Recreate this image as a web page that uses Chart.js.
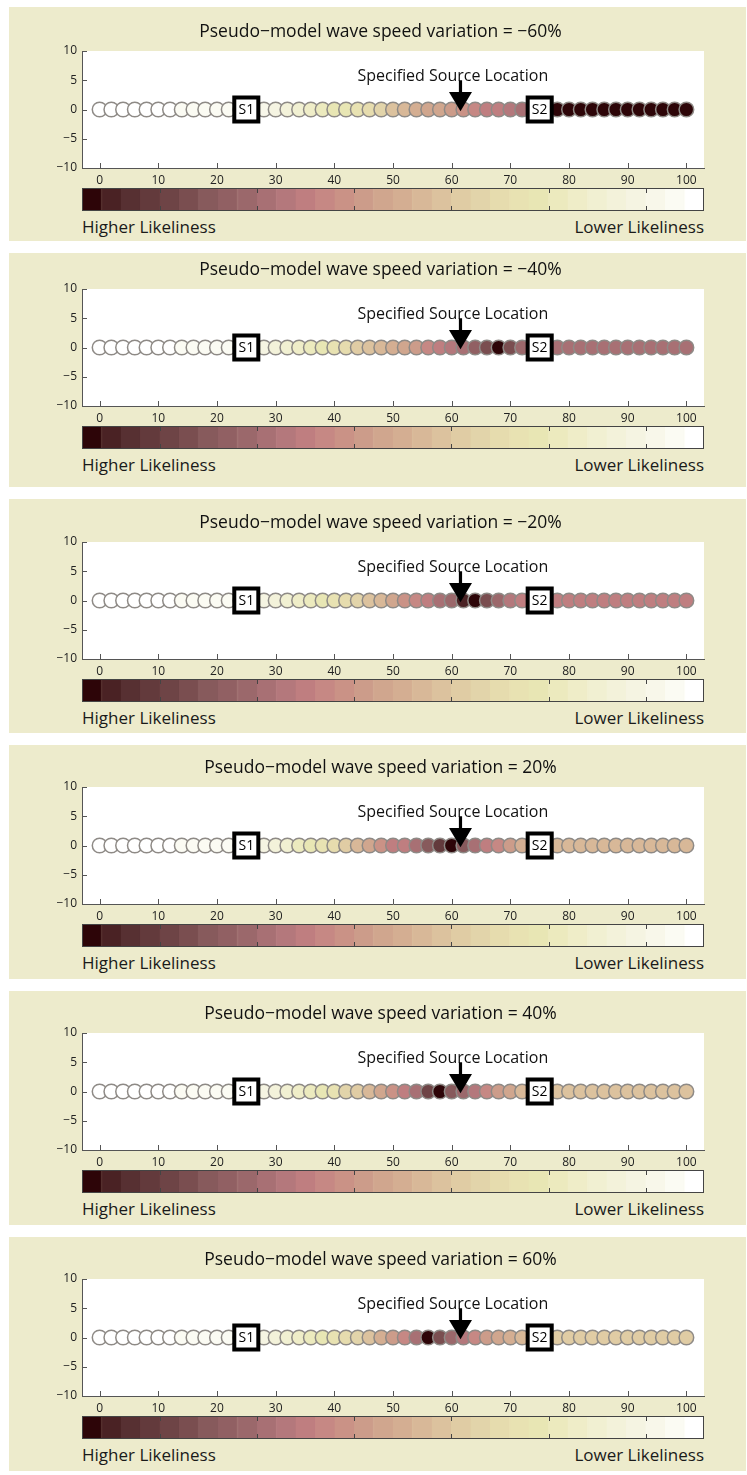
<!DOCTYPE html>
<html>
<head>
<meta charset="utf-8">
<script src="https://cdn.jsdelivr.net/npm/chart.js@4.4.1/dist/chart.umd.min.js"></script>
<style>
  body{margin:0;background:#fff;width:747px;height:1475px;position:relative;overflow:hidden;font-family:"Open Sans",sans-serif;}
  .panel{position:absolute;left:9px;width:737px;height:234px;background:#edebcc;}
  .panel canvas{position:absolute;}
  .lab{position:absolute;font-size:17px;line-height:20px;color:#1a1a1a;white-space:nowrap;}
</style>
</head>
<body>
<script>
// ---- data ----
const titles = [
  'Pseudo\u2212model wave speed variation = \u221260%',
  'Pseudo\u2212model wave speed variation = \u221240%',
  'Pseudo\u2212model wave speed variation = \u221220%',
  'Pseudo\u2212model wave speed variation = 20%',
  'Pseudo\u2212model wave speed variation = 40%',
  'Pseudo\u2212model wave speed variation = 60%'
];
const xPositions = [0,2,4,6,8,10,12,14,16,18,20,22,24,26,28,30,32,34,36,38,40,42,44,46,48,50,
                    52,54,56,58,60,62,64,66,68,70,72,74,76,78,80,82,84,86,88,90,92,94,96,98,100];
// colormap level per position (0 = highest likeliness, 31 = lowest)
const likelinessM60 = [31,31,31,31,31,31,31,30,30,30,30,30,29,29,29,28,27,26,25,24,23,23,22,21,20,18,
                       17,16,15,15,14,13,12,11,11,10,9,8,1,0,0,0,0,0,0,0,0,0,0,0,0];
const likelinessM40 = [31,31,31,31,31,31,31,30,30,30,30,30,29,29,28,27,26,25,24,23,22,21,19,18,17,16,
                       15,14,12,11,10,9,7,5,0,5,8,9,9,9,9,9,9,9,9,9,9,9,9,9,9];
const likelinessM20 = [31,31,31,31,31,31,31,30,30,30,30,30,29,29,28,27,26,25,24,23,22,21,20,18,17,15,
                       13,12,11,9,8,1,0,5,8,10,11,11,11,11,11,11,11,11,11,11,11,11,11,11,11];
const likelinessP20 = [31,31,31,31,31,31,31,30,30,30,30,30,29,29,28,27,26,24,23,22,21,19,17,15,13,11,
                       11,9,6,3,0,6,9,11,12,14,16,17,17,17,17,17,17,17,17,17,17,17,17,17,17];
const likelinessP40 = [31,31,31,31,31,31,31,30,30,30,30,30,29,29,28,27,26,25,24,23,22,20,19,17,15,13,
                       11,9,4,0,6,8,10,12,14,15,17,18,18,18,18,18,18,18,18,18,18,18,18,18,18];
const likelinessP60 = [31,31,31,31,31,31,31,30,30,30,30,30,29,29,28,27,26,25,24,23,22,21,20,18,16,14,
                       12,9,0,5,8,10,12,14,15,16,17,18,19,19,19,19,19,19,19,19,19,19,19,19,19];
const panelLikeliness = [likelinessM60, likelinessM40, likelinessM20, likelinessP20, likelinessP40, likelinessP60];

const colormap = ['#2d0508','#4a2224','#573032','#633a3c','#6e4446','#7a4e50','#875a5c','#916063',
                  '#9b686b','#a87074','#b4787c','#bf7e80','#c68884','#ca9286','#cc9c8a','#d0a68e',
                  '#d4ae92','#d8b898','#dcc29e','#e0cca4','#e2d4aa','#e6dcae','#e8e2b2','#e8e6b4',
                  '#eceabe','#efedc8','#f1f0d2','#f3f2da','#f5f4e2','#f8f7ea','#fbfbf3','#ffffff'];
const cbarLevels = [0,1,2,3,4,5,6,7,8,9,10,11,12,13,14,15,16,17,18,19,20,21,22,23,24,25,26,27,28,29,30,31];
const cbarTicks = [4,9,14,19,24,29];
const xTicks = [0,10,20,30,40,50,60,70,80,90,100];
const yTicks = [-10,-5,0,5,10];
const sensorX = [25,75];
const sensorNames = ['S1','S2'];
const sourceX = 61.5;
const sourceLabel = 'Specified Source Location';
const panelTops = [7,253,499,745,991,1237];
const contentShift = [0,-8,-1,-2,-2,-2];

const FONT = '"Open Sans", sans-serif';

const plotDecor = {
  id: 'plotDecor',
  beforeDraw(chart){
    const a = chart.chartArea, ctx = chart.ctx;
    ctx.save();
    ctx.fillStyle = '#ffffff';
    ctx.fillRect(a.left, a.top, a.width, a.height);
    ctx.restore();
  },
  afterDatasetsDraw(chart){
    const ctx = chart.ctx, xs = chart.scales.x, ys = chart.scales.y;
    ctx.save();
    // sensor labels
    ctx.fillStyle = '#000';
    ctx.font = '14px ' + FONT;
    ctx.textAlign = 'center';
    ctx.textBaseline = 'middle';
    sensorX.forEach((v, i) => {
      ctx.fillText(sensorNames[i], xs.getPixelForValue(v), ys.getPixelForValue(0) + 1);
    });
    // source label + arrow
    ctx.font = '16px ' + FONT;
    ctx.textBaseline = 'alphabetic';
    ctx.fillStyle = '#111';
    ctx.fillText(sourceLabel, xs.getPixelForValue(60.2), ys.getPixelForValue(4.9));
    const x = xs.getPixelForValue(sourceX);
    const yTop = ys.getPixelForValue(5.0), yHead = ys.getPixelForValue(3.0), yTip = ys.getPixelForValue(-0.3);
    ctx.fillStyle = '#000';
    ctx.fillRect(x - 1.6, yTop, 3.2, yHead - yTop + 1);
    ctx.beginPath();
    ctx.moveTo(x - 11.5, yHead);
    ctx.lineTo(x + 11.5, yHead);
    ctx.lineTo(x, yTip);
    ctx.closePath();
    ctx.fill();
    ctx.restore();
  },
  afterDraw(chart){
    // MATLAB-style inward ticks
    const ctx = chart.ctx, xs = chart.scales.x, ys = chart.scales.y, a = chart.chartArea;
    ctx.save();
    ctx.strokeStyle = '#555';
    ctx.lineWidth = 1;
    ctx.beginPath();
    xTicks.forEach(v => {
      const px = Math.round(xs.getPixelForValue(v)) + 0.5;
      ctx.moveTo(px, a.bottom); ctx.lineTo(px, a.bottom - 5);
    });
    yTicks.forEach(v => {
      const py = Math.round(ys.getPixelForValue(v)) + 0.5;
      ctx.moveTo(a.left, py); ctx.lineTo(a.left + 5, py);
    });
    ctx.stroke();
    ctx.restore();
  }
};

const cbarDecor = {
  id: 'cbarDecor',
  afterDraw(chart){
    const ctx = chart.ctx, xs = chart.scales.x, a = chart.chartArea;
    ctx.save();
    ctx.strokeStyle = '#444';
    ctx.lineWidth = 1;
    ctx.strokeRect(a.left + 0.5, a.top + 0.5, a.width - 1, a.height - 1);
    ctx.beginPath();
    cbarTicks.forEach(v => {
      const px = Math.round(xs.getPixelForValue(v)) + 0.5;
      ctx.moveTo(px, a.top); ctx.lineTo(px, a.top + 5);
      ctx.moveTo(px, a.bottom); ctx.lineTo(px, a.bottom - 5);
    });
    ctx.stroke();
    ctx.restore();
  }
};

function make_panel(i){
  const dy = contentShift[i];
  const panel = document.createElement('div');
  panel.className = 'panel';
  panel.style.top = panelTops[i] + 'px';
  document.body.appendChild(panel);

  const cv = document.createElement('canvas');
  cv.width = 734; cv.height = 186;
  cv.style.left = '0px'; cv.style.top = dy + 'px';
  panel.appendChild(cv);

  const cb = document.createElement('canvas');
  cb.width = 622; cb.height = 23;
  cb.style.left = '73px'; cb.style.top = (181 + dy) + 'px';
  panel.appendChild(cb);

  const hi = document.createElement('div');
  hi.className = 'lab'; hi.style.left = '73px'; hi.style.top = (210 + dy) + 'px';
  hi.textContent = 'Higher Likeliness';
  panel.appendChild(hi);
  const lo = document.createElement('div');
  lo.className = 'lab'; lo.style.right = (737 - 695) + 'px'; lo.style.top = (210 + dy) + 'px';
  lo.textContent = 'Lower Likeliness';
  panel.appendChild(lo);

  const levels = panelLikeliness[i];
  new Chart(cv, {
    type: 'scatter',
    plugins: [plotDecor],
    data: {
      datasets: [{
        label: 'sensors',
        data: sensorX.map(x => ({x: x, y: 0})),
        pointStyle: 'rect',
        pointRadius: 17,
        pointBackgroundColor: '#ffffff',
        pointBorderColor: '#000000',
        pointBorderWidth: 4
      },{
        label: 'likeliness',
        data: xPositions.map(x => ({x: x, y: 0})),
        pointRadius: 7.3,
        pointBackgroundColor: levels.map(k => colormap[k]),
        pointBorderColor: '#8e8a86',
        pointBorderWidth: 1.5
      }]
    },
    options: {
      responsive: false,
      animation: false,
      events: [],
      layout: {padding: {left: 48, right: 39, top: 0, bottom: 0}},
      plugins: {
        legend: {display: false},
        tooltip: {enabled: false},
        title: {
          display: true,
          text: titles[i],
          color: '#111',
          font: {family: FONT, size: 17.5, weight: 'normal'},
          padding: {top: 15, bottom: 8}
        }
      },
      scales: {
        x: {
          type: 'linear', min: -3, max: 103,
          afterBuildTicks: s => { s.ticks = xTicks.map(v => ({value: v})); },
          afterFit: s => { s.height = 25; },
          grid: {display: false, drawTicks: false},
          border: {display: true, color: '#555', width: 1},
          ticks: {color: '#222', font: {family: FONT, size: 12}, padding: 5, maxRotation: 0}
        },
        y: {
          type: 'linear', min: -10, max: 10,
          afterBuildTicks: s => { s.ticks = yTicks.map(v => ({value: v})); },
          afterFit: s => { s.width = 25; },
          grid: {display: false, drawTicks: false},
          border: {display: true, color: '#555', width: 1},
          ticks: {color: '#222', font: {family: FONT, size: 12}, padding: 5,
                  callback: v => (v < 0 ? '\u2212' + Math.abs(v) : '' + v)}
        }
      }
    }
  });

  new Chart(cb, {
    type: 'bar',
    plugins: [cbarDecor],
    data: {
      datasets: [{
        data: cbarLevels.map(k => ({x: k + 0.5, y: 1})),
        backgroundColor: colormap,
        borderColor: colormap,
        borderWidth: 1,
        borderSkipped: false,
        barPercentage: 1,
        categoryPercentage: 1
      }]
    },
    options: {
      responsive: false,
      animation: false,
      events: [],
      layout: {padding: 0},
      plugins: {legend: {display: false}, tooltip: {enabled: false}, title: {display: false}},
      scales: {
        x: {type: 'linear', min: 0, max: 32, offset: false, display: false},
        y: {min: 0, max: 1, display: false}
      }
    }
  });
}

for (let i = 0; i < titles.length; i++) make_panel(i);
</script>
</body>
</html>
